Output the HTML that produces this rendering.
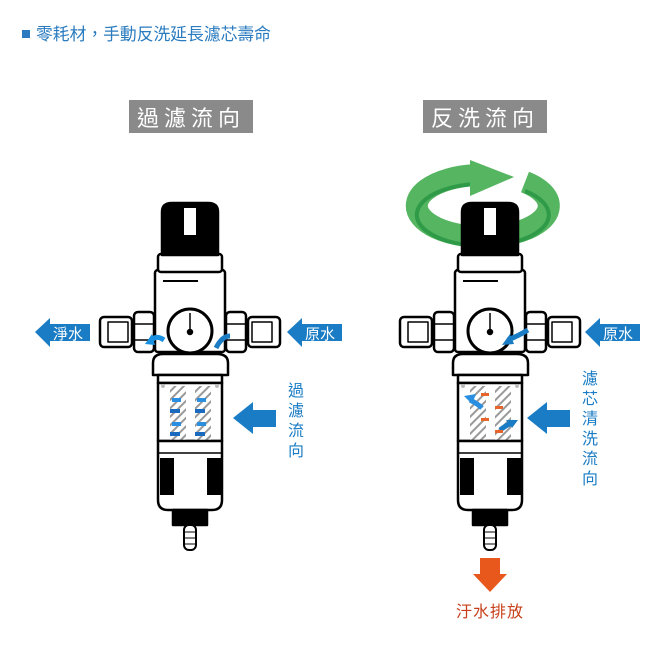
<!DOCTYPE html>
<html><head><meta charset="utf-8"><style>
html,body{margin:0;padding:0;background:#fff;}
svg{display:block;}
text{font-family:"Liberation Sans","Noto Sans CJK TC",sans-serif;}
</style></head><body>
<svg width="650" height="650" viewBox="0 0 650 650" xmlns="http://www.w3.org/2000/svg">
<defs>
<pattern id="hatch" width="6" height="6" patternUnits="userSpaceOnUse" patternTransform="rotate(45)">
<rect width="6" height="6" fill="#fff"/><rect width="2" height="6" fill="#999"/>
</pattern>
<g id="filter" stroke="#000" stroke-width="2.5" stroke-linejoin="round">
  <rect x="100" y="317" width="32" height="30" rx="4" fill="#fff"/>
  <rect x="108" y="322" width="20" height="20" fill="#fff" stroke-width="1.5"/>
  <rect x="134" y="312" width="20" height="40" rx="4" fill="#fff"/>
  <line x1="134" y1="324" x2="154" y2="324" stroke-width="1.5"/>
  <line x1="134" y1="340" x2="154" y2="340" stroke-width="1.5"/>
  <rect x="248" y="317" width="32" height="30" rx="4" fill="#fff"/>
  <rect x="252" y="322" width="20" height="20" fill="#fff" stroke-width="1.5"/>
  <rect x="226" y="312" width="20" height="40" rx="4" fill="#fff"/>
  <line x1="226" y1="324" x2="246" y2="324" stroke-width="1.5"/>
  <line x1="226" y1="340" x2="246" y2="340" stroke-width="1.5"/>
  <rect x="155" y="270" width="70" height="82" rx="3" fill="#fff"/>
  <line x1="163" y1="281" x2="198" y2="281" stroke-width="2"/>
  <rect x="158" y="254" width="64" height="18" rx="3" fill="#fff"/>
  <path d="M162 255 L162 212 Q162 203 172 203 L208 203 Q218 203 218 212 L218 255 Z" fill="#000"/>
  <rect x="184" y="208" width="12" height="27" fill="#fff" stroke="none"/>
  <circle cx="190" cy="331" r="22" fill="#fff" stroke-width="3"/>
  <line x1="190" y1="313" x2="190" y2="331" stroke-width="1.5"/>
  <circle cx="190" cy="332" r="2" fill="#000"/>
  <path d="M153 375 L153 363 Q153 354 163 354 L217 354 Q228 354 228 363 L228 375 Z" fill="#fff"/>
  <rect x="158" y="375" width="64" height="8" fill="#fff"/>
  <rect x="158" y="383" width="64" height="58" fill="#fff"/>
  <rect x="170" y="386" width="16" height="54" fill="url(#hatch)" stroke="none"/>
  <rect x="195" y="386" width="16" height="54" fill="url(#hatch)" stroke="none"/>
  <circle cx="163" cy="386" r="2" fill="#bbb" stroke="none"/>
  <circle cx="217" cy="386" r="2" fill="#bbb" stroke="none"/>
  <path d="M158 441 L222 441 L222 500 Q222 510 212 510 L168 510 Q158 510 158 500 Z" fill="#fff"/>
  <line x1="158" y1="453" x2="222" y2="453" stroke-width="1.5"/>
  <rect x="160" y="458" width="14" height="37" fill="#000" stroke="none"/>
  <rect x="207" y="458" width="14" height="37" fill="#000" stroke="none"/>
  <rect x="173" y="510" width="34" height="15" fill="#000"/>
  <rect x="184" y="525" width="12" height="25" rx="5" fill="#fff" stroke-width="2"/>
  <line x1="184" y1="532" x2="196" y2="532" stroke-width="1"/>
  <line x1="184" y1="538" x2="196" y2="538" stroke-width="1"/>
  <line x1="184" y1="544" x2="196" y2="544" stroke-width="1"/>
</g>
</defs>

<rect x="22" y="30" width="8" height="8" fill="#2a7bbf"/>
<text x="36" y="40" font-size="16.8" fill="#2a7bbf">零耗材，手動反洗延長濾芯壽命</text>

<rect x="129" y="100" width="124" height="33" fill="#8a8a8a"/>
<text x="191" y="126" font-size="22" fill="#fff" text-anchor="middle" letter-spacing="5">過濾流向</text>
<rect x="423" y="100" width="124" height="33" fill="#8a8a8a"/>
<text x="485" y="126" font-size="22" fill="#fff" text-anchor="middle" letter-spacing="5">反洗流向</text>

<path d="M525 182 A66 31 0 1 1 476 175" fill="none" stroke="#55b560" stroke-width="22"/>
<path d="M525 182 A66 31 0 1 1 476 175" fill="none" stroke="#1f8f3e" stroke-width="4" transform="translate(0,9)" opacity="0.7"/>
<polygon points="470,160 514,177 470,196" fill="#55b560"/>

<use href="#filter"/>
<use href="#filter" transform="translate(300,0)"/>

<polygon points="35,332 50,318 50,324 90,324 90,341 50,341 50,347" fill="#1a7cc4"/>
<text x="53" y="339" font-size="15" fill="#fff">淨水</text>
<polygon points="287,332 302,318 302,324 342,324 342,341 302,341 302,347" fill="#1a7cc4"/>
<text x="305" y="339" font-size="15" fill="#fff">原水</text>
<polygon points="233,418 253,402 253,410 276,410 276,427 253,427 253,434" fill="#1a7cc4"/>
<g font-size="16" fill="#1a7cc4" text-anchor="middle">
<text x="296" y="396">過</text><text x="296" y="416">濾</text><text x="296" y="436">流</text><text x="296" y="456">向</text>
</g>
<path d="M150 342 Q155 334 164 340" fill="none" stroke="#1a90e0" stroke-width="5"/>
<polygon points="145,344 152,334 155,345" fill="#1a90e0"/>
<path d="M216 348 Q222 336 230 336" fill="none" stroke="#1a7cc4" stroke-width="5"/>
<g fill="#2a8fe0">
<rect x="172" y="398" width="9" height="4"/><rect x="197" y="398" width="9" height="4"/>
<rect x="172" y="422" width="9" height="4"/><rect x="197" y="422" width="9" height="4"/>
</g>
<g fill="#1a6bbf">
<rect x="170" y="409" width="10" height="4"/><rect x="195" y="409" width="10" height="4"/>
<rect x="170" y="432" width="10" height="4"/><rect x="195" y="432" width="10" height="4"/>
</g>

<polygon points="585,332 600,318 600,324 640,324 640,341 600,341 600,347" fill="#1a7cc4"/>
<text x="603" y="339" font-size="15" fill="#fff">原水</text>
<polygon points="527,418 547,402 547,410 570,410 570,427 547,427 547,434" fill="#1a7cc4"/>
<g font-size="16" fill="#1a7cc4" text-anchor="middle">
<text x="590" y="384">濾</text><text x="590" y="404">芯</text><text x="590" y="424">清</text><text x="590" y="444">洗</text><text x="590" y="464">流</text><text x="590" y="484">向</text>
</g>
<path d="M508 340 Q518 336 528 330" fill="none" stroke="#1a7cc4" stroke-width="5"/>
<polygon points="502,345 510,334 514,344" fill="#1a7cc4"/>
<polygon points="464,396 476,394 472,404" fill="#2a8fe0"/>
<path d="M470 400 Q478 404 482 408" stroke="#2a8fe0" stroke-width="5" fill="none"/>
<polygon points="518,420 512,428 506,420" fill="#1a7cc4"/>
<path d="M500 430 Q508 424 514 422" stroke="#1a7cc4" stroke-width="5" fill="none"/>
<g fill="#e8642a">
<rect x="481" y="393" width="8" height="3"/><rect x="495" y="406" width="8" height="3"/>
<rect x="481" y="418" width="8" height="3"/><rect x="495" y="430" width="8" height="3"/>
</g>

<polygon points="480,558 500,558 500,574 507,574 490,592 473,574 480,574" fill="#e8581c"/>
<text x="490" y="617" font-size="16" fill="#c8401a" text-anchor="middle" letter-spacing="1">汙水排放</text>
</svg>
</body></html>
